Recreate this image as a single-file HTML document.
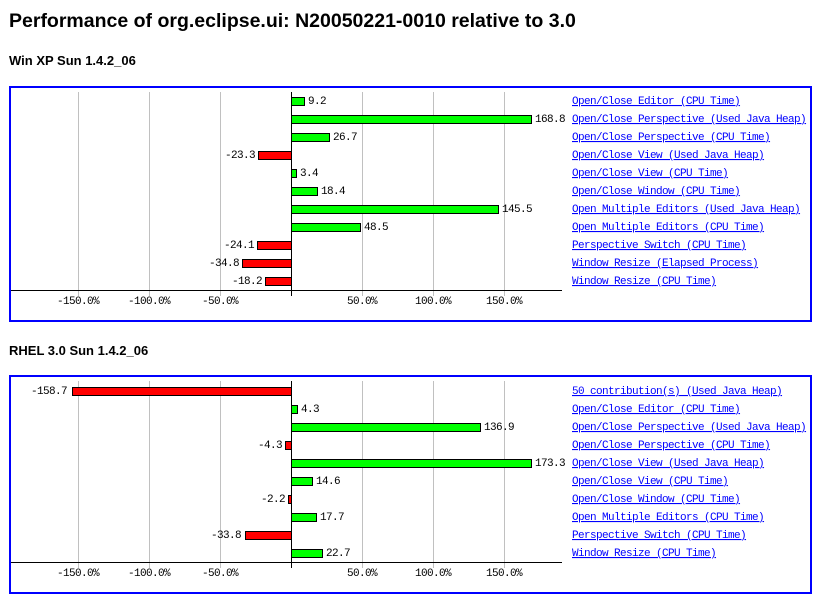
<!DOCTYPE html>
<html><head><meta charset="utf-8"><style>
body{margin:0;background:#fff;width:838px;height:610px;overflow:hidden}
svg{display:block}
.t{font-family:"Liberation Sans",sans-serif;font-weight:bold}
.m{font-family:"Liberation Mono",monospace;font-size:11px;letter-spacing:-0.6px}
.l{fill:#00f;text-decoration:underline}
.g{fill:#0f0;stroke:#000;stroke-width:1}
.r{fill:#f00;stroke:#000;stroke-width:1}
.gr{stroke:#c0c0c0;stroke-width:1}
</style></head><body>
<svg width="838" height="610" xmlns="http://www.w3.org/2000/svg">
<text class="t" x="9" y="27" font-size="19.5">Performance of org.eclipse.ui: N20050221-0010 relative to 3.0</text>
<text class="t" x="9" y="65" font-size="13">Win XP Sun 1.4.2_06</text>
<text class="t" x="9" y="355" font-size="13">RHEL 3.0 Sun 1.4.2_06</text>
<rect x="10" y="87" width="801" height="234" fill="none" stroke="#00f" stroke-width="2"/>
<rect x="10" y="376" width="801" height="217" fill="none" stroke="#00f" stroke-width="2"/>
<g class="gr">
<line x1="78.5" y1="92" x2="78.5" y2="296"/><line x1="149.5" y1="92" x2="149.5" y2="296"/><line x1="220.5" y1="92" x2="220.5" y2="296"/><line x1="362.5" y1="92" x2="362.5" y2="296"/><line x1="433.5" y1="92" x2="433.5" y2="296"/><line x1="504.5" y1="92" x2="504.5" y2="296"/>
<line x1="78.5" y1="381" x2="78.5" y2="568"/><line x1="149.5" y1="381" x2="149.5" y2="568"/><line x1="220.5" y1="381" x2="220.5" y2="568"/><line x1="362.5" y1="381" x2="362.5" y2="568"/><line x1="433.5" y1="381" x2="433.5" y2="568"/><line x1="504.5" y1="381" x2="504.5" y2="568"/>
</g>
<g stroke="#000" stroke-width="1">
<line x1="11" y1="290.5" x2="562" y2="290.5"/><line x1="291.5" y1="92" x2="291.5" y2="296"/>
<line x1="11" y1="562.5" x2="562" y2="562.5"/><line x1="291.5" y1="381" x2="291.5" y2="568"/>
</g>
<g class="m" text-anchor="middle">
<text x="78" y="304">-150.0%</text><text x="149" y="304">-100.0%</text><text x="220" y="304">-50.0%</text><text x="362" y="304">50.0%</text><text x="433" y="304">100.0%</text><text x="504" y="304">150.0%</text>
<text x="78" y="576">-150.0%</text><text x="149" y="576">-100.0%</text><text x="220" y="576">-50.0%</text><text x="362" y="576">50.0%</text><text x="433" y="576">100.0%</text><text x="504" y="576">150.0%</text>
</g>
<rect class="g" x="291.5" y="97.5" width="13" height="8"/>
<rect class="g" x="291.5" y="115.5" width="240" height="8"/>
<rect class="g" x="291.5" y="133.5" width="38" height="8"/>
<rect class="r" x="258.5" y="151.5" width="33" height="8"/>
<rect class="g" x="291.5" y="169.5" width="5" height="8"/>
<rect class="g" x="291.5" y="187.5" width="26" height="8"/>
<rect class="g" x="291.5" y="205.5" width="207" height="8"/>
<rect class="g" x="291.5" y="223.5" width="69" height="8"/>
<rect class="r" x="257.5" y="241.5" width="34" height="8"/>
<rect class="r" x="242.5" y="259.5" width="49" height="8"/>
<rect class="r" x="265.5" y="277.5" width="26" height="8"/>
<g class="m">
<text x="308" y="104">9.2</text>
<text x="535" y="122">168.8</text>
<text x="333" y="140">26.7</text>
<text x="255" y="158" text-anchor="end">-23.3</text>
<text x="300" y="176">3.4</text>
<text x="321" y="194">18.4</text>
<text x="502" y="212">145.5</text>
<text x="364" y="230">48.5</text>
<text x="254" y="248" text-anchor="end">-24.1</text>
<text x="239" y="266" text-anchor="end">-34.8</text>
<text x="262" y="284" text-anchor="end">-18.2</text>
</g>
<g class="m l">
<text x="572" y="104">Open/Close Editor (CPU Time)</text>
<text x="572" y="122">Open/Close Perspective (Used Java Heap)</text>
<text x="572" y="140">Open/Close Perspective (CPU Time)</text>
<text x="572" y="158">Open/Close View (Used Java Heap)</text>
<text x="572" y="176">Open/Close View (CPU Time)</text>
<text x="572" y="194">Open/Close Window (CPU Time)</text>
<text x="572" y="212">Open Multiple Editors (Used Java Heap)</text>
<text x="572" y="230">Open Multiple Editors (CPU Time)</text>
<text x="572" y="248">Perspective Switch (CPU Time)</text>
<text x="572" y="266">Window Resize (Elapsed Process)</text>
<text x="572" y="284">Window Resize (CPU Time)</text>
</g>
<rect class="r" x="72.5" y="387.5" width="219" height="8"/>
<rect class="g" x="291.5" y="405.5" width="6" height="8"/>
<rect class="g" x="291.5" y="423.5" width="189" height="8"/>
<rect class="r" x="285.5" y="441.5" width="6" height="8"/>
<rect class="g" x="291.5" y="459.5" width="240" height="8"/>
<rect class="g" x="291.5" y="477.5" width="21" height="8"/>
<rect class="r" x="288.5" y="495.5" width="3" height="8"/>
<rect class="g" x="291.5" y="513.5" width="25" height="8"/>
<rect class="r" x="245.5" y="531.5" width="46" height="8"/>
<rect class="g" x="291.5" y="549.5" width="31" height="8"/>
<g class="m">
<text x="67" y="394" text-anchor="end">-158.7</text>
<text x="301" y="412">4.3</text>
<text x="484" y="430">136.9</text>
<text x="282" y="448" text-anchor="end">-4.3</text>
<text x="535" y="466">173.3</text>
<text x="316" y="484">14.6</text>
<text x="285" y="502" text-anchor="end">-2.2</text>
<text x="320" y="520">17.7</text>
<text x="241" y="538" text-anchor="end">-33.8</text>
<text x="326" y="556">22.7</text>
</g>
<g class="m l">
<text x="572" y="394">50 contribution(s) (Used Java Heap)</text>
<text x="572" y="412">Open/Close Editor (CPU Time)</text>
<text x="572" y="430">Open/Close Perspective (Used Java Heap)</text>
<text x="572" y="448">Open/Close Perspective (CPU Time)</text>
<text x="572" y="466">Open/Close View (Used Java Heap)</text>
<text x="572" y="484">Open/Close View (CPU Time)</text>
<text x="572" y="502">Open/Close Window (CPU Time)</text>
<text x="572" y="520">Open Multiple Editors (CPU Time)</text>
<text x="572" y="538">Perspective Switch (CPU Time)</text>
<text x="572" y="556">Window Resize (CPU Time)</text>
</g>
</svg>
</body></html>
